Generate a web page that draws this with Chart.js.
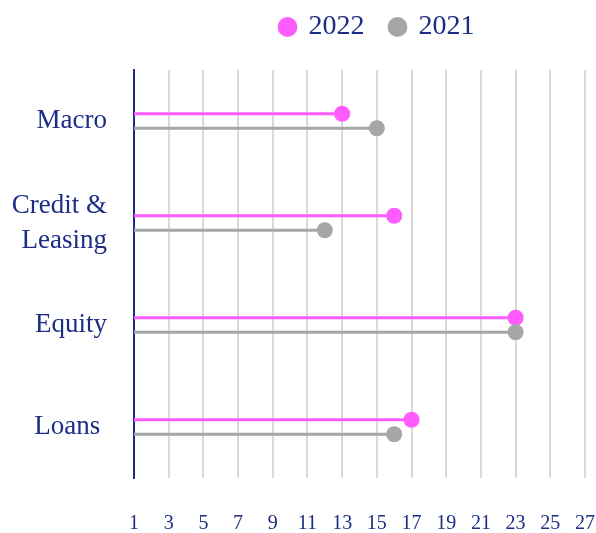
<!DOCTYPE html>
<html>
<head>
<meta charset="utf-8">
<script src="https://cdn.jsdelivr.net/npm/chart.js@4"></script>
<style>
  html, body { margin: 0; padding: 0; background: #fff; }
  #wrap { width: 596px; height: 533px; }
</style>
</head>
<body>
<div id="wrap"><canvas id="lollipop"></canvas></div>
<script>
const categories = ["Macro", ["Credit &", "Leasing"], "Equity", "Loans "];
const series_names = ["2022", "2021"];
const values_2022 = [13, 16, 23, 17];
const values_2021 = [15, 12, 23, 16];
const tick_min = 1;
const tick_max = 27;
const tick_step = 2;

const navy = "#1b2d84";
const pink = "#ff5cff";
const grey = "#a6a6a6";
const font_family = "'Liberation Serif', serif";

// draw a dot at the end of every bar
const dotsPlugin = {
    id: "dots",
    afterDatasetsDraw(chart) {
        const ctx = chart.ctx;
        chart.data.datasets.forEach((ds, i) => {
            const meta = chart.getDatasetMeta(i);
            if (meta.hidden) return;
            meta.data.forEach((bar) => {
                ctx.save();
                ctx.beginPath();
                ctx.arc(bar.x, bar.y, 8, 0, Math.PI * 2);
                ctx.fillStyle = ds.backgroundColor;
                ctx.fill();
                ctx.restore();
            });
        });
    }
};

// legend is not centred on the canvas in the original
const legendShift = {
    id: "legendShift",
    afterLayout(chart) {
        chart.legend.left += 170;
        chart.legend.top -= 19;
    }
};

const data = {
    labels: categories,
    datasets: [
        {
            label: series_names[0],
            data: values_2022,
            backgroundColor: pink,
            categoryPercentage: 0.285,
            barPercentage: 1,
            maxBarThickness: 3
        },
        {
            label: series_names[1],
            data: values_2021,
            backgroundColor: grey,
            categoryPercentage: 0.285,
            barPercentage: 1,
            maxBarThickness: 3
        }
    ]
};

const config = {
    type: "bar",
    data: data,
    plugins: [dotsPlugin, legendShift],
    options: {
        indexAxis: "y",
        responsive: true,
        maintainAspectRatio: false,
        animation: false,
        layout: {
            padding: { top: 6, right: 11, left: 0, bottom: 0 }
        },
        plugins: {
            tooltip: { enabled: false },
            legend: {
                position: "top",
                labels: {
                    usePointStyle: true,
                    pointStyle: "circle",
                    boxWidth: 14,
                    boxHeight: 14,
                    padding: 26,
                    color: navy,
                    font: { family: font_family, size: 28 }
                }
            }
        },
        scales: {
            x: {
                min: tick_min,
                max: tick_max,
                ticks: {
                    stepSize: tick_step,
                    color: navy,
                    padding: 34,
                    font: { family: font_family, size: 20 }
                },
                grid: {
                    color: "#d9d9d9",
                    lineWidth: 2,
                    drawTicks: false
                },
                border: { display: false },
                afterFit(scale) {
                    scale.height = 55;
                    scale.paddingLeft = 0;
                    scale.paddingRight = 0;
                }
            },
            y: {
                ticks: {
                    color: navy,
                    padding: 27,
                    font: { family: font_family, size: 27, lineHeight: 1.3 }
                },
                grid: { display: false, drawTicks: false },
                border: { display: true, color: navy, width: 2 },
                afterFit(scale) {
                    scale.width = 134;
                    scale.paddingTop = 0;
                    scale.paddingBottom = 0;
                }
            }
        }
    }
};

const ctx = document.getElementById("lollipop").getContext("2d");
const lollipopChart = new Chart(ctx, config);
</script>
</body>
</html>
